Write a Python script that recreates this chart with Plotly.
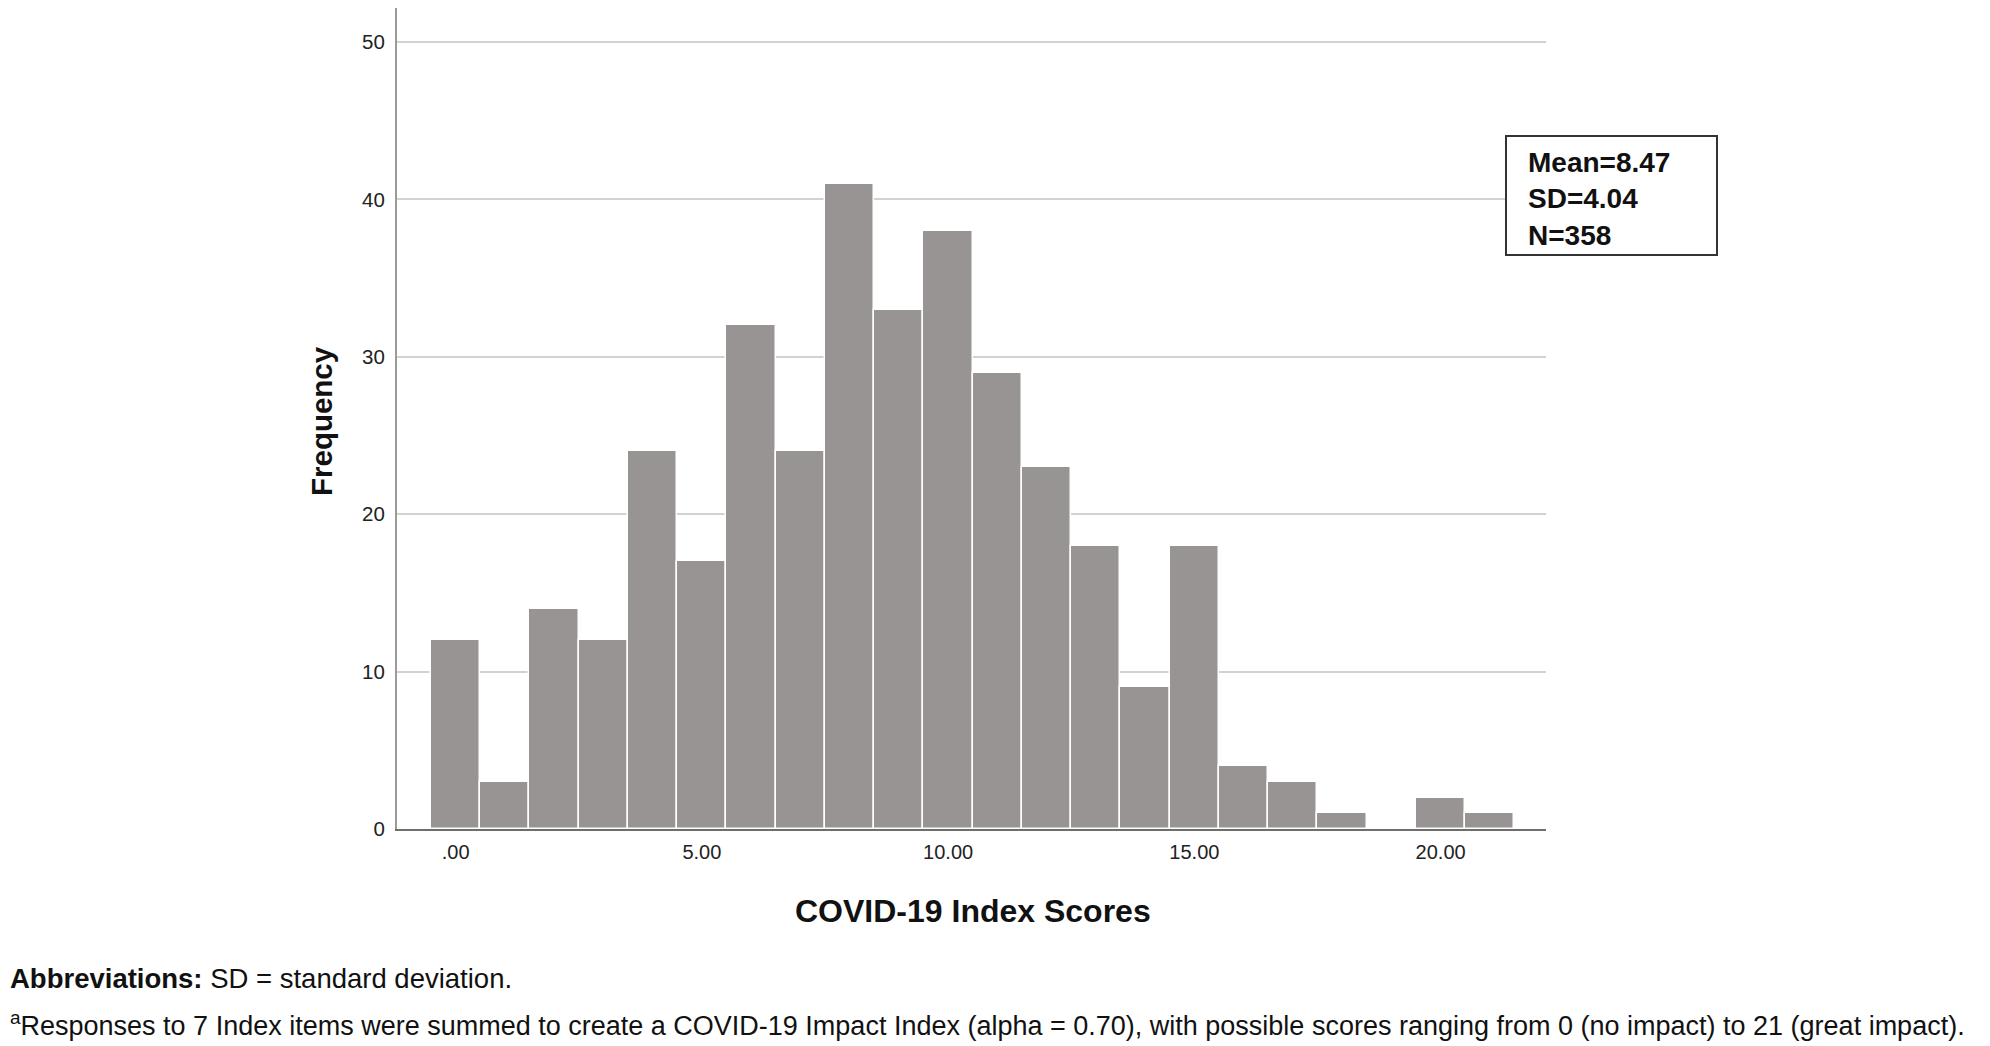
'''
histogram of COVID-19 index scores with a stats box and footnotes
'''

import plotly.graph_objects as go

#### data
scores = list(range(0, 22))
frequency = [12, 3, 14, 12, 24, 17, 32, 24, 41, 33, 38, 29, 23, 18, 9, 18, 4, 3, 1, 0, 2, 1]
x_tick_vals = [0, 5, 10, 15, 20]
x_tick_text = ['.00', '5.00', '10.00', '15.00', '20.00']
y_tick_vals = [0, 10, 20, 30, 40, 50]
stats_lines = ['Mean=8.47', 'SD=4.04', 'N=358']

footnote_bold = 'Abbreviations:'
footnote_rest = ' SD = standard deviation.'
footnote_2 = ('<sup>a</sup>Responses to 7 Index items were summed to create a COVID-19 Impact Index '
              '(alpha = 0.70), with possible scores ranging from 0 (no impact) to 21 (great impact).')

#### page geometry (pixels); the page body adds an 8px offset
OFF = 8
W, H = 1990 - OFF, 1046 - OFF
L, R, T, B = 397 - OFF, 1546 - OFF, 0, 829 - OFF

def px_x(x):
    # page pixel -> paper coordinate
    return (x - OFF - L) / (R - L)

def px_y(y):
    return (B - (y - OFF)) / (B - T)

FONT = 'Liberation Sans, Arial, sans-serif'

fig = go.Figure()
fig.add_trace(go.Bar(
    x=scores, y=frequency, width=1,
    marker=dict(color='#989493', line=dict(color='white', width=1.5)),
    showlegend=False, hoverinfo='x+y'))

fig.update_layout(
    width=W, height=H,
    margin=dict(l=L, r=W - R, t=T, b=H - B, pad=0),
    plot_bgcolor='white', paper_bgcolor='white',
    font=dict(family=FONT, color='#222222'),
    bargap=0,
)
fig.update_xaxes(
    range=[-1.19, 22.14], tickvals=x_tick_vals, ticktext=x_tick_text,
    showgrid=False, zeroline=False,
    showline=True, linecolor='#6e6e6e', linewidth=2,
    ticks='outside', ticklen=4, tickcolor='rgba(0,0,0,0)',
    tickfont=dict(size=20, family=FONT, color='#222222'),
)
fig.update_yaxes(
    range=[0, 52.16], tickvals=y_tick_vals,
    showgrid=True, gridcolor='#d2d2d2', gridwidth=2, zeroline=False,
    showline=True, linecolor='#9a9a9a', linewidth=2,
    ticks='outside', ticklen=6, tickcolor='rgba(0,0,0,0)',
    tickfont=dict(size=20.5, family=FONT, color='#222222'),
)

#### axis titles
fig.add_annotation(text='<b>COVID-19 Index Scores</b>', xref='paper', yref='paper',
                   x=px_x(973), y=px_y(911), xanchor='center', yanchor='middle',
                   showarrow=False, font=dict(size=32, family=FONT, color='#111111'))
fig.add_annotation(text='<b>Frequency</b>', xref='paper', yref='paper', textangle=-90,
                   x=px_x(321), y=px_y(421), xanchor='center', yanchor='middle',
                   showarrow=False, font=dict(size=29.5, family=FONT, color='#111111'))

#### stats box
fig.add_shape(type='rect', xref='paper', yref='paper',
              x0=px_x(1506), x1=px_x(1717), y0=px_y(255), y1=px_y(136),
              line=dict(color='#333333', width=2), fillcolor='white')
fig.add_annotation(text='<b>' + '<br>'.join(stats_lines) + '</b>', xref='paper', yref='paper',
                   x=px_x(1526), y=px_y(199), xanchor='left', yanchor='middle', align='left',
                   showarrow=False, font=dict(size=28, family=FONT, color='#111111'))

#### footnotes
fig.add_annotation(text='<b>' + footnote_bold + '</b>' + footnote_rest, xref='paper', yref='paper',
                   x=px_x(OFF), y=px_y(978), xanchor='left', yanchor='middle', align='left',
                   showarrow=False, font=dict(size=27.5, family=FONT, color='#111111'))
fig.add_annotation(text=footnote_2, xref='paper', yref='paper',
                   x=px_x(OFF), y=px_y(1024), xanchor='left', yanchor='middle', align='left',
                   showarrow=False, font=dict(size=27, family=FONT, color='#111111'))

fig.write_html('out.html')
